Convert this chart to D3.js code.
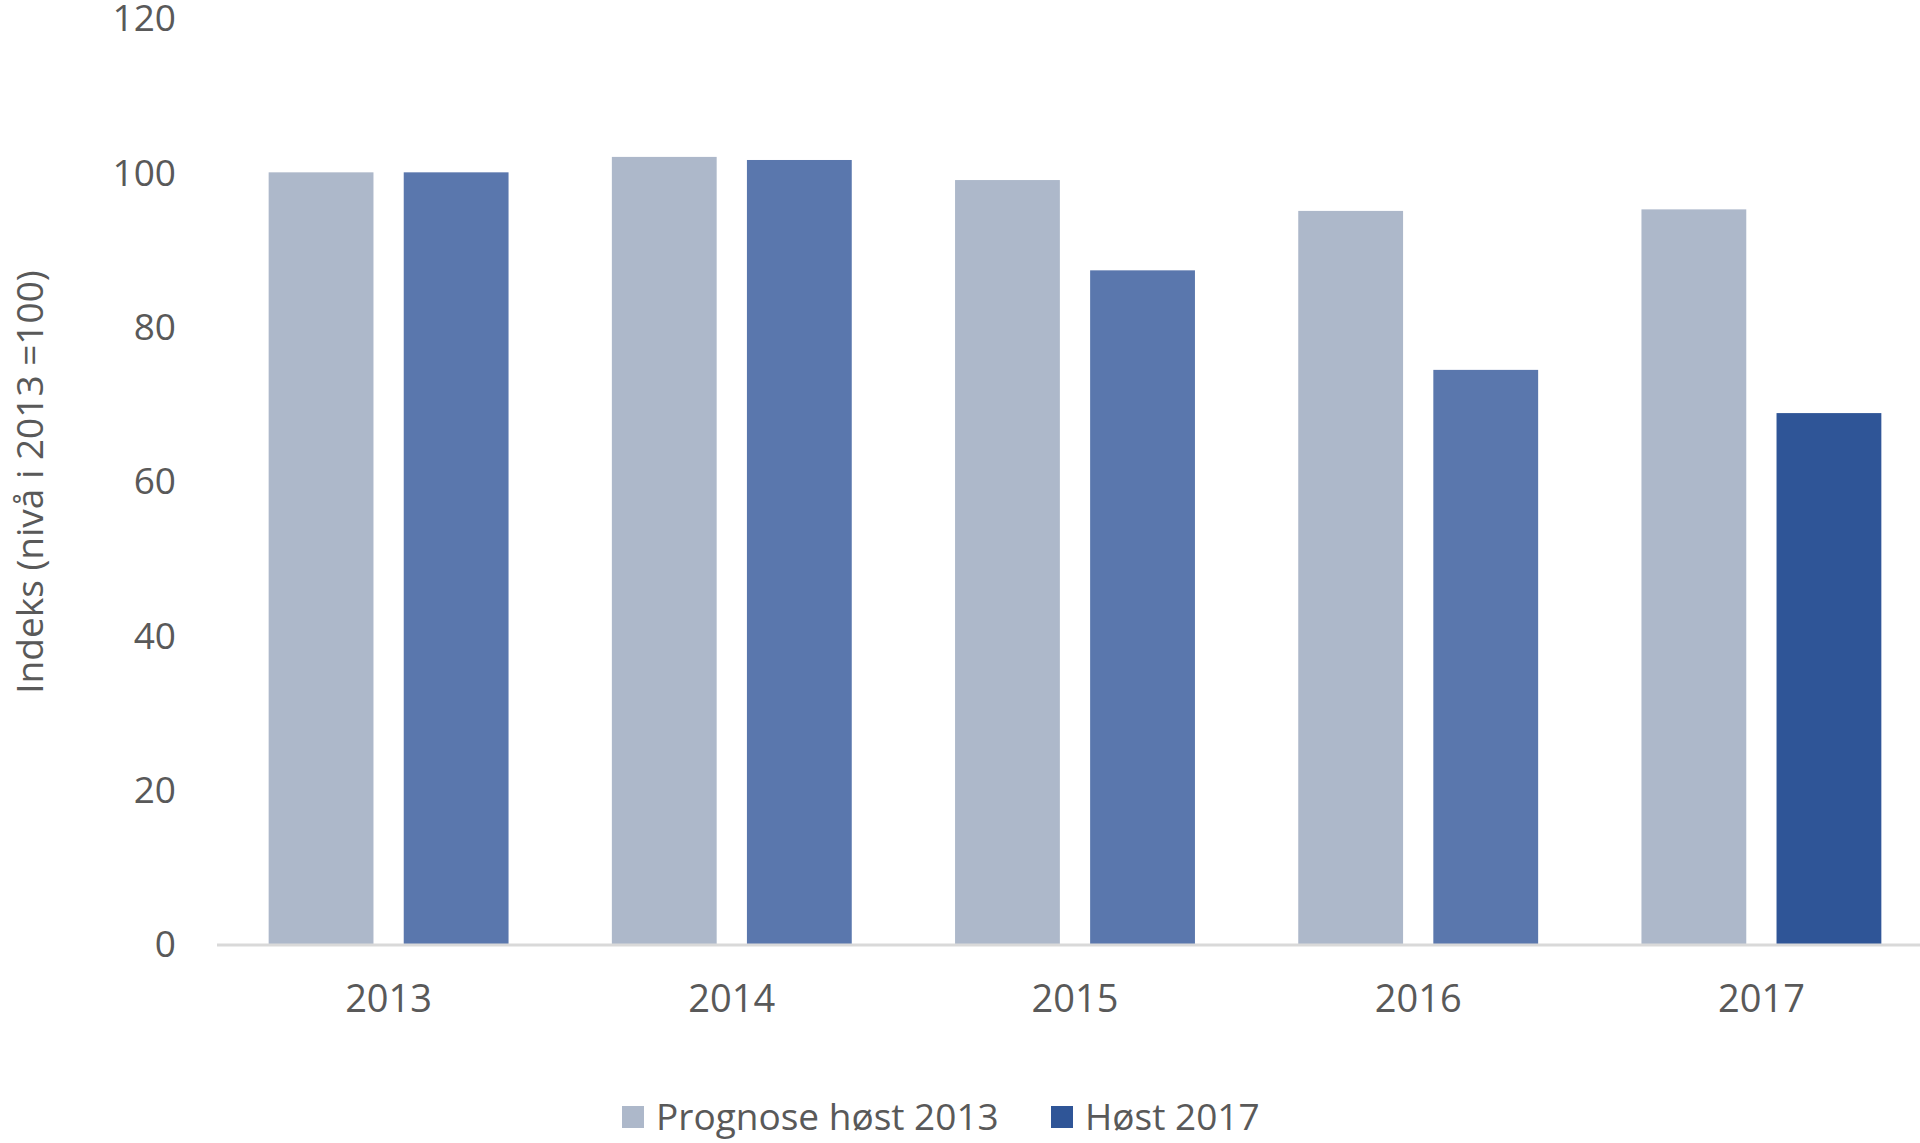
<!DOCTYPE html>
<html>
<head>
<meta charset="utf-8">
<script src="https://cdn.jsdelivr.net/npm/d3@7"></script>
<style>
  html, body { margin: 0; padding: 0; background: #fff; }
  svg { display: block; }
  text { font-family: "Open Sans", "Noto Sans", sans-serif; fill: #595959; }
</style>
</head>
<body>
<svg id="chart" width="1920" height="1143"></svg>
<script>
const years = ["2013", "2014", "2015", "2016", "2017"];
const seriesNames = ["Prognose høst 2013", "Høst 2017"];
const prognose2013 = [100, 102, 99, 95, 95.2];
const host2017 = [100, 101.6, 87.3, 74.4, 68.8];
const yTicks = [0, 20, 40, 60, 80, 100, 120];
const yTitle = "Indeks (nivå i 2013 =100)";

const lightColor = "#ADB8CA";
const midColor = "#5A77AD";
const darkColor = "#2F5597";
const barColors = [
  [lightColor, lightColor, lightColor, lightColor, lightColor],
  [midColor, midColor, midColor, midColor, darkColor]
];
const legendColors = [lightColor, darkColor];

const svg = d3.select("#chart");
const plotLeft = 217, plotRight = 1933, plotTop = 18, plotBottom = 944;

const x0 = d3.scaleBand().domain(years).range([plotLeft, plotRight])
  .paddingInner(0.301).paddingOuter(0.1505);
const x1 = d3.scaleBand().domain(d3.range(seriesNames.length))
  .range([0, x0.bandwidth()]).paddingInner(0.224).paddingOuter(0);
const y = d3.scaleLinear().domain([0, 120]).range([plotBottom, plotTop]);

const data = [prognose2013, host2017];

// bars
data.forEach((vals, si) => {
  svg.append("g").selectAll("rect").data(vals).join("rect")
    .attr("x", (d, i) => x0(years[i]) + x1(si))
    .attr("y", d => y(d))
    .attr("width", x1.bandwidth())
    .attr("height", d => y(0) - y(d))
    .attr("fill", (d, i) => barColors[si][i]);
});

// y axis (labels only)
const yAxis = d3.axisLeft(y).tickValues(yTicks).tickSize(0).tickPadding(0);
const gy = svg.append("g").attr("transform", "translate(176,0)").call(yAxis);
gy.select(".domain").remove();
gy.selectAll("text").style("font-size", "37px").style("font-family", "Open Sans")
  .attr("fill", "#595959").attr("dy", "0.35em");

// x axis
const xAxis = d3.axisBottom(x0).tickSize(0).tickPadding(0);
const gx = svg.append("g").attr("transform", `translate(0,${plotBottom})`).call(xAxis);
gx.select(".domain").remove();
gx.selectAll("text").style("font-size", "38px").style("font-family", "Open Sans")
  .attr("fill", "#595959").attr("y", 55).attr("dy", "0.35em");
svg.append("line")
  .attr("x1", plotLeft).attr("x2", 1920)
  .attr("y1", y(0) + 1).attr("y2", y(0) + 1)
  .attr("stroke", "#D9D9D9").attr("stroke-width", 3);

// y title
svg.append("text")
  .attr("transform", "translate(30,482) rotate(-90)")
  .attr("text-anchor", "middle").attr("dy", "0.35em")
  .style("font-size", "37px")
  .text(yTitle);

// legend
const legendItems = [
  { name: seriesNames[0], color: legendColors[0], x: 622 },
  { name: seriesNames[1], color: legendColors[1], x: 1051 }
];
const lg = svg.append("g");
legendItems.forEach(it => {
  lg.append("rect").attr("x", it.x).attr("y", 1106).attr("width", 22).attr("height", 22)
    .attr("fill", it.color);
  lg.append("text").attr("x", it.x + 34).attr("y", 1117).attr("dy", "0.35em")
    .style("font-size", "37px").text(it.name);
});
</script>
</body>
</html>
